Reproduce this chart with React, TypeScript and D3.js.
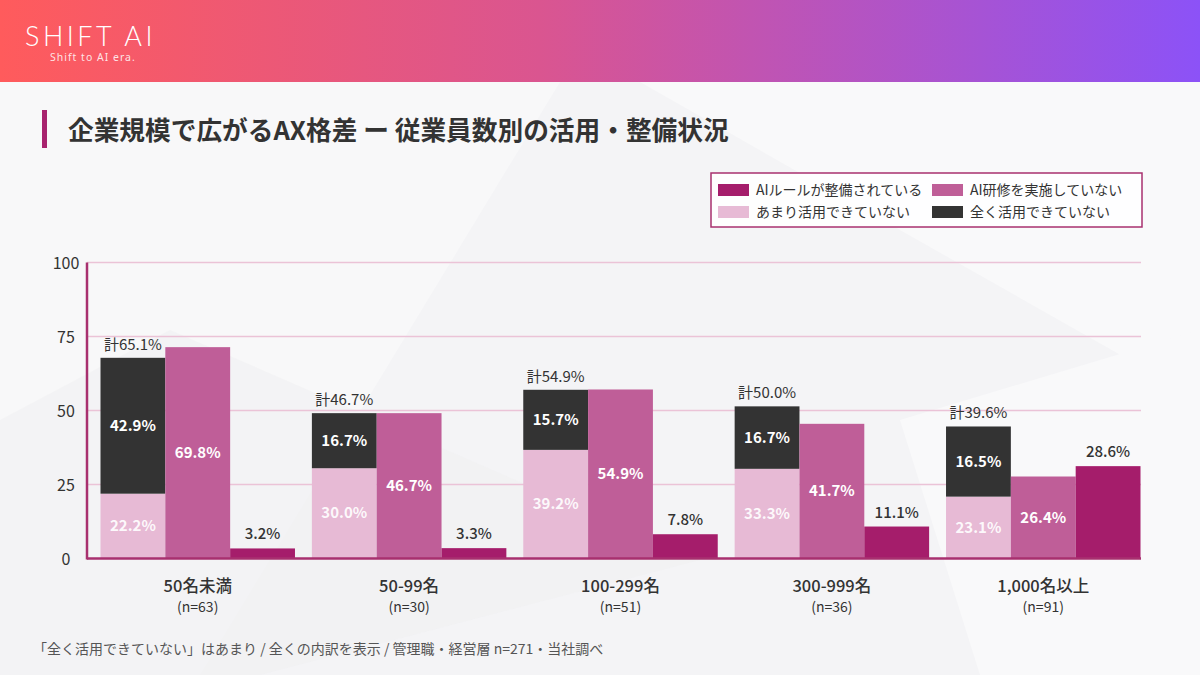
import * as d3 from "d3";

const categories = ["50名未満", "50-99名", "100-299名", "300-999名", "1,000名以上"];
const sampleSizes = [63, 30, 51, 36, 91];

// values printed on the bars
const littleUseLabels = [22.2, 30.0, 39.2, 33.3, 23.1];
const noUseLabels = [42.9, 16.7, 15.7, 16.7, 16.5];
const totalLabels = [65.1, 46.7, 54.9, 50.0, 39.6];
const noTrainingLabels = [69.8, 46.7, 54.9, 41.7, 26.4];
const ruleLabels = [3.2, 3.3, 7.8, 11.1, 28.6];

// bar heights as drawn in the reference (they don't follow the labels exactly)
const littleUseHeights = [21.9, 30.5, 36.7, 30.3, 20.9];
const noUseHeights = [45.9, 18.6, 20.3, 21.1, 23.7];
const noTrainingHeights = [71.4, 49.1, 57.1, 45.5, 27.7];
const ruleHeights = [3.4, 3.5, 8.2, 10.8, 31.2];

const yTicks = [0, 25, 50, 75, 100];

const legendItems = [
  { label: "AIルールが整備されている", color: "#A51D6B" },
  { label: "AI研修を実施していない", color: "#BF5E98" },
  { label: "あまり活用できていない", color: "#E7BAD5" },
  { label: "全く活用できていない", color: "#333333" },
];

const width = 1200;
const height = 675;
const plot = { left: 87, right: 1141, top: 262.5, bottom: 558.5 };
const font = "'Noto Sans CJK JP', 'Noto Sans', sans-serif";
const ink = "#333333";
const axisColor = "#A8306F";

function pct(v: number) {
  return `${v.toFixed(1)}%`;
}

export default function App() {
  const x = d3.scaleBand<string>().domain(categories).range([100.5, 1140.5]).paddingInner(0.08).paddingOuter(0);
  const inner = d3.scaleBand<string>().domain(["stack", "training", "rule"]).range([0, x.bandwidth()]).padding(0);
  const y = d3.scaleLinear().domain([0, 100]).range([plot.bottom, plot.top]);

  const rows = categories.map((c, i) => ({ category: c, little: littleUseHeights[i], none: noUseHeights[i] }));
  const stacked = d3.stack<(typeof rows)[number]>().keys(["little", "none"])(rows);
  const stackColors = ["#E7BAD5", "#333333"];
  const bw = inner.bandwidth();

  return (
    <svg width={width} height={height} style={{ position: "absolute", left: 0, top: 0 }} fontFamily={font}>
      <defs>
        <linearGradient id="hdr" x1="0" x2="1" y1="0" y2="0">
          <stop offset="0" stopColor="#FF5B5C" />
          <stop offset="0.45" stopColor="#DA5590" />
          <stop offset="1" stopColor="#8C52F7" />
        </linearGradient>
      </defs>

      {/* background */}
      <rect width={width} height={height} fill="#F4F4F6" />
      <polygon points="0,82 560,82 200,675 0,675" fill="#F8F8F9" />
      <polygon points="170,330 700,560 260,675 0,675 0,420" fill="#F0F0F2" opacity={0.6} />
      <polygon points="640,82 1200,82 1200,400 900,230" fill="#F9F9FA" />
      <polygon points="900,420 1200,330 1200,675 980,675" fill="#F9F9FA" />

      {/* header */}
      <rect width={width} height={82} fill="url(#hdr)" />
      <text x={25} y={46} fill="#fff" fontSize={27} fontWeight={300} letterSpacing={3.5} fontFamily="Lato, 'Noto Sans', sans-serif">SHIFT AI</text>
      <text x={50} y={61} fill="#fff" fillOpacity={0.85} fontSize={10.5} letterSpacing={1} fontFamily="'Noto Sans', sans-serif">Shift to AI era.</text>

      {/* title */}
      <rect x={42} y={110} width={5} height={38} fill="#A8236E" />
      <text x={68} y={140} fill={ink} fontSize={25.7} fontWeight={700}>企業規模で広がるAX格差 ー 従業員数別の活用・整備状況</text>

      {/* legend */}
      <rect x={711} y={173} width={431} height={54} fill="#fff" fillOpacity={0.85} stroke="#A8306F" strokeWidth={1.5} />
      {legendItems.map((item, i) => {
        const col = i % 2;
        const row = Math.floor(i / 2);
        const lx = 718 + col * 214;
        const ly = 184 + row * 22;
        return (
          <g key={item.label}>
            <rect x={lx} y={ly} width={31} height={12} fill={item.color} />
            <text x={lx + 38} y={ly + 11} fill={ink} fontSize={14}>{item.label}</text>
          </g>
        );
      })}

      {/* grid and y axis */}
      {yTicks.map((t) => (
        <g key={t}>
          {t > 0 ? <line x1={plot.left} x2={plot.right} y1={y(t)} y2={y(t)} stroke="#EBC3D7" strokeWidth={1.5} /> : null}
          <text x={66} y={y(t) + 6} textAnchor="middle" fill={ink} fontSize={16}>{t}</text>
        </g>
      ))}

      {/* stacked usage bars */}
      {stacked.map((layer, li) => (
        <g key={layer.key}>
          {layer.map((d, i) => (
            <rect key={i} x={x(categories[i])! + inner("stack")!} y={y(d[1])} width={bw} height={y(d[0]) - y(d[1])} fill={stackColors[li]} />
          ))}
        </g>
      ))}
      {categories.map((c, i) => {
        const gx = x(c)!;
        const sx = gx + inner("stack")! + bw / 2;
        const tx = gx + inner("training")!;
        const rx = gx + inner("rule")!;
        const lTop = y(littleUseHeights[i]);
        const sTop = y(littleUseHeights[i] + noUseHeights[i]);
        return (
          <g key={c}>
            <rect x={tx} y={y(noTrainingHeights[i])} width={bw} height={plot.bottom - y(noTrainingHeights[i])} fill="#BF5E98" />
            <rect x={rx} y={y(ruleHeights[i])} width={bw} height={plot.bottom - y(ruleHeights[i])} fill="#A51D6B" />

            <text x={sx} y={(lTop + plot.bottom) / 2 + 5} textAnchor="middle" fill="#fff" fillOpacity={0.92} fontSize={15} fontWeight={700}>{pct(littleUseLabels[i])}</text>
            <text x={sx} y={(sTop + lTop) / 2 + 5} textAnchor="middle" fill="#fff" fontSize={15} fontWeight={700}>{pct(noUseLabels[i])}</text>
            <text x={sx} y={sTop - 8} textAnchor="middle" fill={ink} fontSize={15}>{`計${pct(totalLabels[i])}`}</text>
            <text x={tx + bw / 2} y={(y(noTrainingHeights[i]) + plot.bottom) / 2 + 5} textAnchor="middle" fill="#fff" fontSize={15} fontWeight={700}>{pct(noTrainingLabels[i])}</text>
            <text x={rx + bw / 2} y={y(ruleHeights[i]) - 9} textAnchor="middle" fill={ink} fontSize={15} fontWeight={500}>{pct(ruleLabels[i])}</text>

            <text x={gx + x.bandwidth() / 2} y={592} textAnchor="middle" fill={ink} fontSize={16.5} fontWeight={500}>{c}</text>
            <text x={gx + x.bandwidth() / 2} y={612} textAnchor="middle" fill={ink} fontSize={14}>{`(n=${sampleSizes[i]})`}</text>
          </g>
        );
      })}

      {/* axis lines */}
      <line x1={plot.left} x2={plot.left} y1={plot.top} y2={plot.bottom + 1} stroke={axisColor} strokeWidth={2.5} />
      <line x1={plot.left} x2={plot.right} y1={plot.bottom} y2={plot.bottom} stroke={axisColor} strokeWidth={2.5} />

      {/* footnote */}
      <text x={33} y={654} fill="#555" fontSize={14}>「全く活用できていない」はあまり / 全くの内訳を表示 / 管理職・経営層 n=271・当社調べ</text>
    </svg>
  );
}
